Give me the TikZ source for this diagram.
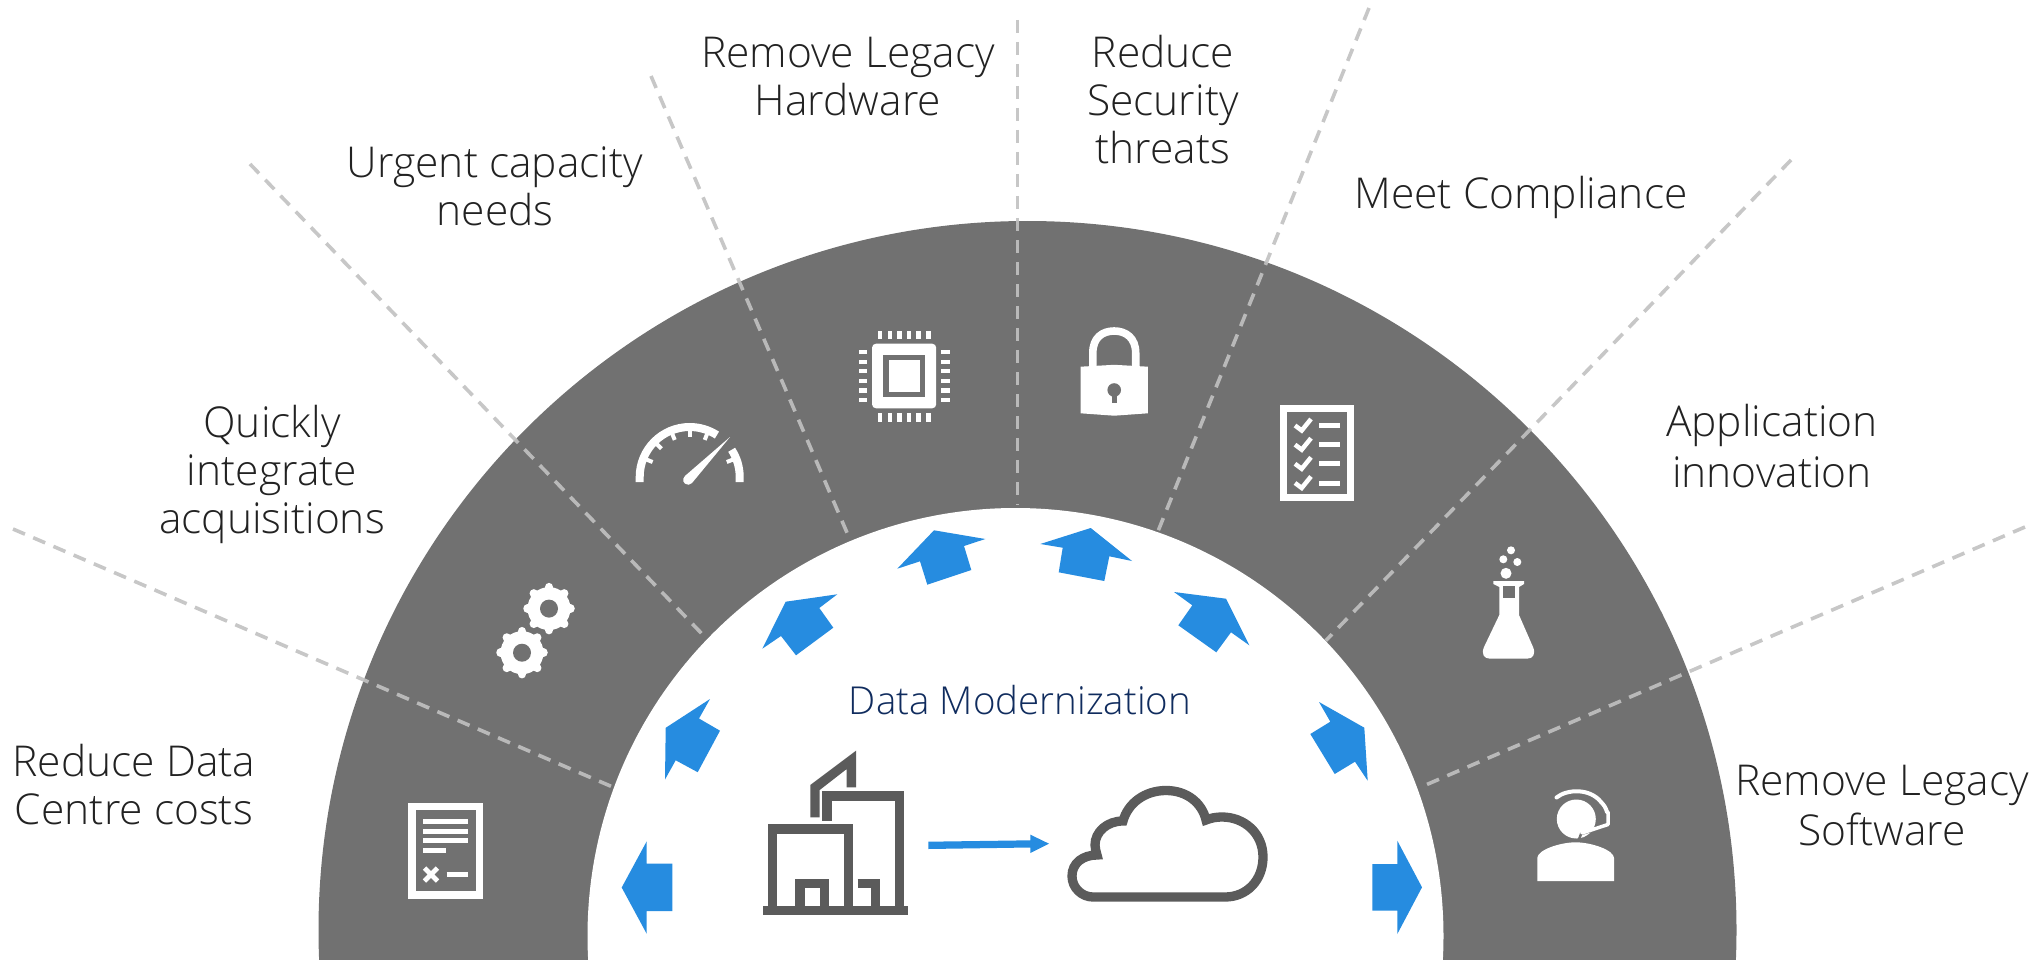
\documentclass[tikz,border=0pt]{standalone}
\usepackage{fontspec}
\setmainfont{Open Sans}[UprightFont=* Light]
\definecolor{ringgray}{HTML}{717171}
\definecolor{archblue}{HTML}{268CE0}
\definecolor{glyphgray}{HTML}{5B5B5B}
\definecolor{dashgray}{HTML}{C1C1C1}
\definecolor{labelink}{HTML}{222222}
\definecolor{titleink}{HTML}{102C5E}
\tikzset{
  label text/.style={font=\fontsize{42.5}{48}\selectfont,text=labelink,align=center,inner sep=0pt},
  title text/.style={font=\fontsize{38.5}{44}\selectfont,text=titleink,align=center,inner sep=0pt},
  spoke/.style={draw=dashgray,opacity=.9,line width=3.6pt,dash pattern=on 13pt off 9pt},
  blockarrow/.style={fill=archblue,draw=none},
  icon/.style={fill=white,draw=none},
  iconline/.style={draw=white,fill=none},
  hole/.style={fill=ringgray,draw=none},
  glyph/.style={draw=glyphgray,line width=9.3pt,fill=none,line join=miter},
}
\newcommand{\gearshape}[2]{%
  \begin{scope}[shift={(#1,#2)}]
    \fill[icon] (0,0) circle[radius=21.5pt];
    \foreach \a in {0,45,...,315}
      \draw[white,line width=8.5pt,line cap=round] (\a:18pt) -- (\a:21.5pt);
    \fill[hole] (0,0) circle[radius=9pt];
  \end{scope}}
\newcommand{\checkrow}[1]{%
  \draw[iconline,line width=4.5pt] (1295,#1) -- ++(6.7,5) -- ++(9.3,-11.5);
  \draw[iconline,line width=5pt] (1319.3,#1) -- (1339.6,#1);}
\begin{document}
\begin{tikzpicture}[x=1pt,y=-1pt]
\useasboundingbox (0,0) rectangle (2042,960);
\clip (0,0) rectangle (2042,960);
% ring
\fill[ringgray] (1027.5,930) circle[radius=709pt];
\fill[white] (1015.5,936) circle[radius=428pt];
% spokes
\draw[spoke] (13,529) -- (615,788);
\draw[spoke] (250,164) -- (705,637);
\draw[spoke] (651,76) -- (849.3,538);
\draw[spoke] (1017.5,20) -- (1017.5,505);
\draw[spoke] (1369,8) -- (1157.8,531.7);
\draw[spoke] (1791,160) -- (1325.7,640.7);
\draw[spoke] (2025,527) -- (1421.7,786.7);
% block arrows
\fill[blockarrow] (621.7,887.5)--(646.7,841.3)--(646.7,863.5)--(672.3,863.5)--(672.3,911)--(646.7,911)--(646.7,933.8)--cycle;
\fill[blockarrow] (710,699)--(665.7,727.8)--(665,779.5)--(675.7,760.3)--(697.7,772.2)--(720,730.7)--(699,718.5)--cycle;
\fill[blockarrow] (837.3,594.3)--(785.7,601.7)--(762.3,648.7)--(781,636)--(796,655.3)--(833.3,627.7)--(819.3,608)--cycle;
\fill[blockarrow] (985.3,539)--(934,530.3)--(897.3,568.7)--(920,561.3)--(927.3,584.7)--(971.3,570)--(964,546)--cycle;
\fill[blockarrow] (1040.3,544)--(1090.7,528)--(1132,561)--(1109.3,556.3)--(1104.3,581)--(1058.7,572.3)--(1062.7,547.7)--cycle;
\fill[blockarrow] (1174,592)--(1226,598.7)--(1249.3,645.3)--(1231,632.3)--(1216.3,652.3)--(1178.3,625.3)--(1192.3,605.3)--cycle;
\fill[blockarrow] (1319,702)--(1364.3,727.7)--(1367.7,780.7)--(1355,761.7)--(1334.7,774)--(1310.3,734)--(1330.3,721.7)--cycle;
\fill[blockarrow] (1422,887.3)--(1397.3,840.7)--(1397.3,864)--(1372.3,864)--(1372.3,910.7)--(1397.3,910.7)--(1397.3,934)--cycle;
% labels
\node[label text] (costs) at (134,785) {Reduce Data\\Centre costs};
\node[label text] (acq) at (272,474) {Quickly\\integrate\\acquisitions};
\node[label text] (capacity) at (495,186) {Urgent capacity\\needs};
\node[label text] (hardware) at (848,77) {Remove Legacy\\Hardware};
\node[label text] (security) at (1163,100) {Reduce\\Security\\threats};
\node[label text] (compliance) at (1521,197) {Meet Compliance};
\node[label text] (innovation) at (1772,446.5) {Application\\[3pt]innovation};
\node[label text] (software) at (1882,806) {Remove Legacy\\[2pt]Software};
\node[title text] (title) at (1020,700) {Data Modernization};
% document icon
\draw[iconline,line width=7.3pt] (412,806.2) rectangle (479.7,895);
\foreach \y in {821.4,831.3,840.6} \draw[iconline,line width=4.7pt] (423,\y) -- (468.3,\y);
\draw[iconline,line width=4.7pt] (423,850.6) -- (445.7,850.6);
\draw[iconline,line width=4.7pt] (424.5,868) -- (437.5,881) (424.5,881) -- (437.5,868);
\draw[iconline,line width=5pt] (446.7,874.6) -- (468.3,874.6);
% gears
\gearshape{549}{608.6}
\gearshape{522}{652.7}
% gauge
\draw[iconline,line width=8pt] (639.7,482) -- (639.7,477) arc[start angle=180,end angle=57,radius=50pt];
\draw[iconline,line width=8pt] (739.7,482) -- (739.7,477) arc[start angle=0,end angle=33,radius=50pt];
\begin{scope}[shift={(689.7,477)}]
  \foreach \a in {158,135,112,90,68,22}
    \draw[iconline,line width=4pt] (\a:48pt) -- (\a:40pt);
\end{scope}
\fill[icon] (730,437) -- (692,483) arc[start angle=-40,end angle=-230,radius=5pt] -- cycle;
% chip
\fill[icon,rounded corners=4pt] (872,343.7) rectangle (936.2,408.3);
\fill[hole] (883.4,355.3) rectangle (924.8,396.7);
\fill[icon] (888.8,360.3) rectangle (920.2,391.7);
\foreach \x in {880,890,899.5,909,918.6,928.2} {
  \fill[icon] (\x-2.3,330.7) rectangle (\x+2.3,339.3);
  \fill[icon] (\x-2.3,413.3) rectangle (\x+2.3,422);}
\foreach \y in {352,361.7,371,380.7,390.3,399.7} {
  \fill[icon] (858.6,\y-2.2) rectangle (867,\y+2.2);
  \fill[icon] (941.2,\y-2.2) rectangle (949.6,\y+2.2);}
% lock
\draw[iconline,line width=7.6pt] (1092.8,368) -- (1092.8,353) .. controls (1092.8,338) and (1102,331) .. (1114.2,331) .. controls (1126,331) and (1135.7,338) .. (1135.7,353) -- (1135.7,368);
\fill[icon] (1080.5,366.7) -- (1114.2,364.8) -- (1147.9,366.7) -- (1147.9,413.3) -- (1114.2,415.7) -- (1080.5,413.3) -- cycle;
\fill[hole] (1114.2,390) circle[radius=6.8pt];
\fill[hole] (1111.5,390) rectangle (1116.9,403.3);
% checklist
\draw[iconline,line width=7pt] (1283.4,408.8) rectangle (1350.7,497.6);
\checkrow{425.5}\checkrow{444.7}\checkrow{463.8}\checkrow{483}
% flask
\fill[icon] (1511,550.3) circle[radius=4pt];
\fill[icon] (1503.3,559.3) circle[radius=4pt];
\fill[icon] (1517.3,562) circle[radius=4pt];
\fill[icon] (1506,573.3) circle[radius=5.5pt];
\fill[icon] (1493.3,581) -- (1524,581) -- (1524,584) -- (1519,587) -- (1519,615) -- (1533,647) .. controls (1536,654) and (1533,658.7) .. (1527,658.7) -- (1490,658.7) .. controls (1484,658.7) and (1481,654) .. (1484,647) -- (1499.3,615) -- (1499.3,587) -- (1493.3,584) -- cycle;
\fill[hole] (1503.3,586) rectangle (1515,597.7);
% person
\fill[icon] (1576.3,819) circle[radius=19.5pt];
\draw[ringgray,line width=2.5pt] (1611,825) -- (1581,834) -- (1578,842);
\draw[ringgray,line width=2.5pt] (1554,802) .. controls (1567,793) and (1588,792) .. (1599,806);
\draw[iconline,line width=4pt,line cap=round] (1556.5,797.5) .. controls (1567,789) and (1590,788) .. (1601,802) .. controls (1604,805) and (1606,808) .. (1607,812);
\draw[iconline,line width=3.5pt,line cap=round,line join=round] (1608,812) -- (1608,824.5) -- (1582,833);
\fill[icon] (1537.3,881) -- (1537.3,858) .. controls (1537.3,850) and (1560,842.3) .. (1575.7,842.3) .. controls (1591,842.3) and (1614,850) .. (1614,858) -- (1614,881) -- cycle;
% building
\fill[glyphgray] (763.3,906) rectangle (908.3,915.3);
\draw[glyph] (772.3,906) -- (772.3,829) -- (848.3,829) -- (848.3,906);
\draw[glyph] (800,906) -- (800,883.7) -- (824.7,883.7) -- (824.7,906);
\draw[glyph] (857.7,883.7) -- (875.3,883.7) -- (875.3,906);
\draw[glyph] (827,820.7) -- (827,796) -- (899.7,796) -- (899.7,906);
\fill[glyphgray] (810.3,817.3) -- (810.3,785) -- (856,750.7) -- (856,787.3) -- (846.7,787.3) -- (846.7,769) -- (819.7,790) -- (819.7,817.3) -- cycle;
% migration arrow
\fill[archblue] (928.3,841.7) -- (1030.4,840.3) -- (1030.4,834.7) -- (1049,843.7) -- (1030.4,853) -- (1030.4,847.5) -- (928.3,849) -- cycle;
% cloud
\draw[glyph] (1093,897) -- (1225,897) .. controls (1247,897) and (1263,880) .. (1263,857) .. controls (1263,833) and (1244,817) .. (1222,817) .. controls (1216,817) and (1211,818) .. (1206,820) .. controls (1202,803) and (1187,790.5) .. (1166,790.5) .. controls (1145,790.5) and (1128,803) .. (1123,821) .. controls (1107,821) and (1095,832) .. (1095,845) .. controls (1095,848) and (1096,851) .. (1097,855) .. controls (1083,855) and (1072,863) .. (1072,876) .. controls (1072,888) and (1082,897) .. (1093,897) -- cycle;
\end{tikzpicture}
\end{document}
